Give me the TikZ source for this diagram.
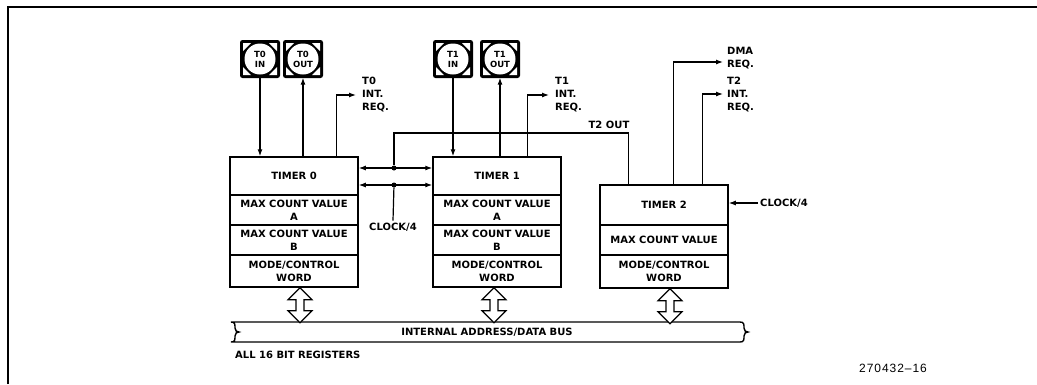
\documentclass[tikz,border=0pt]{standalone}
\usepackage{fontspec}
\setmainfont{DejaVu Sans}
\newfontfamily\capfont[LetterSpace=8]{Liberation Sans}
\usetikzlibrary{arrows.meta,calc}
\newcommand\pinicon[3]{%
  \fill[rounded corners=2.5pt] ($(#2)+(-20,-19)$) rectangle ($(#2)+(20,19)$);
  \fill[white] ($(#2)+(-17,-16)$) -- ++(8,0) -- ++(-8,8) -- cycle;
  \fill[white] ($(#2)+(17,-16)$) -- ++(-8,0) -- ++(8,8) -- cycle;
  \fill[white] ($(#2)+(-17,16)$) -- ++(8,0) -- ++(-8,-8) -- cycle;
  \fill[white] ($(#2)+(17,16)$) -- ++(-8,0) -- ++(8,-8) -- cycle;
  \node[pinc] (#1) at (#2) {#3};}
\begin{document}
\begin{tikzpicture}[x=1pt,y=-1pt,
  sec/.style={draw,line width=1.5pt,minimum width=128pt,inner sep=0pt,align=center,font=\bfseries\fontsize{10}{13}\selectfont},
  lbl/.style={font=\bfseries\fontsize{10}{13}\selectfont,inner sep=2pt,align=left},
  wire/.style={line width=1.2pt},
  arr/.style={wire,-{Latex[length=7pt,width=5pt]}},
  barr/.style={wire,{Latex[length=7pt,width=5pt]}-{Latex[length=7pt,width=5pt]}},
  dot/.style={circle,fill,inner sep=0pt,minimum size=5pt},
  pinc/.style={circle,fill=white,inner sep=0pt,minimum size=31pt,align=center,font=\bfseries\fontsize{8.5}{10}\selectfont},
  dbl/.pic={\draw[line width=1.2pt,fill=white] (0,0) -- (12,12) -- (4,12) -- (4,23) -- (12,23) -- (0,35) -- (-12,23) -- (-4,23) -- (-4,12) -- (-12,12) -- cycle;}
]
\useasboundingbox (0,0) rectangle (1037,384);
% frame
\draw[line width=1.4pt] (8,384) -- (8,7) -- (1037,7);

% timer 0
\node[sec,minimum height=38pt] (t0) at (294,176) {TIMER 0};
\node[sec,minimum height=30pt] (t0a) at (294,210) {MAX COUNT VALUE\\A};
\node[sec,minimum height=30pt] (t0b) at (294,240) {MAX COUNT VALUE\\B};
\node[sec,minimum height=32pt] (t0m) at (294,271) {MODE/CONTROL\\WORD};
% timer 1
\node[sec,minimum height=38pt] (t1) at (497,176) {TIMER 1};
\node[sec,minimum height=30pt] (t1a) at (497,210) {MAX COUNT VALUE\\A};
\node[sec,minimum height=30pt] (t1b) at (497,240) {MAX COUNT VALUE\\B};
\node[sec,minimum height=32pt] (t1m) at (497,271) {MODE/CONTROL\\WORD};
% timer 2
\node[sec,minimum height=40pt] (t2) at (664,205) {TIMER 2};
\node[sec,minimum height=30pt] (t2a) at (664,240) {MAX COUNT VALUE};
\node[sec,minimum height=33pt] (t2m) at (664,271.5) {MODE/CONTROL\\WORD};

% pins
\pinicon{i0}{260,59}{T0\\IN}
\pinicon{o0}{303,59}{T0\\OUT}
\pinicon{i1}{453,59}{T1\\IN}
\pinicon{o1}{500,59}{T1\\OUT}

\draw[arr] ([yshift=-3pt]i0.south) -- (i0.south |- t0.north);
\draw[arr] (o0.south |- t0.north) -- ([yshift=-3pt]o0.south);
\draw[arr] ([yshift=-3pt]i1.south) -- (i1.south |- t1.north);
\draw[arr] (o1.south |- t1.north) -- ([yshift=-3pt]o1.south);

% interrupt labels
\node[lbl,anchor=west] (l0) at (360,95) {T0\\INT.\\REQ.};
\node[lbl,anchor=west] (l1) at (553,95) {T1\\INT.\\REQ.};
\node[lbl,anchor=west] (l2) at (725,95) {T2\\INT.\\REQ.};
\node[lbl,anchor=west] (dma) at (725,58) {DMA\\REQ.};
\draw[arr,shorten >=4pt] ([xshift=107pt]t0.north west) |- (l0.west);
\draw[arr,shorten >=4pt] ([xshift=95pt]t1.north west) |- (l1.west);
\draw[arr,shorten >=2pt] ([xshift=103pt]t2.north west) |- ([yshift=1pt]l2.west);
\draw[arr,shorten >=2pt] ([xshift=74pt]t2.north west) |- ([yshift=-4pt]dma.west);

% T2 OUT and clock junctions
\node[dot] (j1) at (394,168) {};
\node[dot] (j2) at (394,185) {};
\coordinate (t2c) at (394,133);
\draw[wire] ([xshift=29pt]t2.north west) |- (t2c) -- (j1);
\node[lbl,anchor=south] (t2o) at (609,131) {T2 OUT};
\draw[barr] (t0.east |- j1) -- (t1.west |- j1);
\draw[barr] (t0.east |- j2) -- (t1.west |- j2);
\node[lbl] (c0) at (393,227) {CLOCK/4};
\draw[wire] (c0.north) -- (j2);
\node[lbl,anchor=west] (c2) at (758,203) {CLOCK/4};
\draw[arr] (c2.west) -- (c2.west -| t2.east);

% bus
\draw[line width=1.4pt,fill=white]
  (231,322) -- (740,322)
  .. controls (744,322) and (744,324) .. (744,328)
  .. controls (744,331) and (746,332) .. (748,332)
  .. controls (746,332) and (744,333) .. (744,336)
  .. controls (744,340) and (744,342) .. (740,342)
  -- (231,342)
  .. controls (235,342) and (235,340) .. (235,336)
  .. controls (235,333) and (237,332) .. (239,332)
  .. controls (237,332) and (235,331) .. (235,328)
  .. controls (235,324) and (235,322) .. (231,322) -- cycle;
\node[lbl] (bus) at (487,332) {INTERNAL ADDRESS/DATA BUS};
\pic at ([xshift=6pt]t0m.south) {dbl};
\pic at ([xshift=-3pt]t1m.south) {dbl};
\pic at ([xshift=6pt]t2m.south) {dbl};

\node[lbl,anchor=west] (all) at (233,355) {ALL 16 BIT REGISTERS};
\node[font=\capfont\fontsize{12}{14}\selectfont] (fig) at (893,368) {270432–16};
\end{tikzpicture}
\end{document}
